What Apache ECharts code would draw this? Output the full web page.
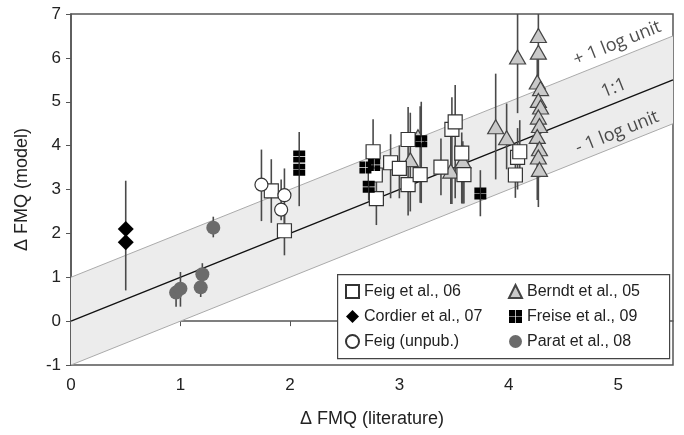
<!DOCTYPE html>
<html>
<head>
<meta charset="utf-8">
<script src="https://cdn.jsdelivr.net/npm/echarts@6/dist/echarts.min.js"></script>
<style>
  html, body { margin: 0; padding: 0; background: #fff; }
  #chart { width: 684px; height: 435px; }
</style>
</head>
<body>
<div id="chart"></div>
<script>
// rows are [x, y, errLow, errHigh]; null = no bar visible
const feig06 = [
  [1.83, 2.97, 2.24, 3.69], [1.95, 2.06, 1.5, 2.6], [2.76, 3.86, 3.1, 4.6],
  [2.78, 3.33, null, null], [2.79, 2.79, 2.19, 3.3], [2.92, 3.61, 2.8, 4.26],
  [3.0, 3.48, 2.8, 4.0], [3.08, 4.14, 3.6, 4.88], [3.08, 3.11, 2.41, 3.7],
  [3.19, 3.34, 2.7, 4.9], [3.38, 3.51, 2.87, 4.16], [3.48, 4.37, 2.67, 5.1],
  [3.51, 4.54, 2.8, 5.38], [3.57, 3.83, 2.68, 4.3], [3.59, 3.34, 2.68, 4.0],
  [4.06, 3.33, 2.81, 3.9], [4.08, 3.73, 3.0, 4.4], [4.1, 3.86, 3.2, 4.58]
]
const cordier07 = [[0.5, 2.1, 0.7, 3.2], [0.5, 1.8, null, null]]
const feigUnpub = [[1.74, 3.11, 2.28, 3.91], [1.92, 2.54, 2.3, 3.23], [1.95, 2.87, 2.0, 3.48]]
const berndt05 = [
  [3.1, 3.68, 2.5, 4.75], [3.17, 4.2, null, null], [3.47, 3.42, 2.67, 4.5],
  [3.58, 3.65, 2.68, 4.1], [3.88, 4.43, 3.23, 5.64], [3.98, 4.18, 3.46, 4.96],
  [4.08, 6.02, 4.74, 7.0], [4.27, 6.51, 2.6, 7.0], [4.27, 6.13, null, null],
  [4.26, 5.45, 2.76, 6.2], [4.29, 5.3, null, null], [4.27, 5.03, null, null],
  [4.29, 4.88, null, null], [4.27, 4.65, null, null], [4.28, 4.46, null, null],
  [4.26, 4.21, null, null], [4.28, 3.93, null, null], [4.27, 3.74, null, null],
  [4.28, 3.46, null, null]
]
const freise09 = [
  [2.085, 3.75, 2.62, 4.31], [2.085, 3.45, null, null], [2.69, 3.5, null, null],
  [2.77, 3.56, null, null], [2.72, 3.06, 2.75, 3.75], [3.2, 4.1, 2.69, 5.0],
  [3.74, 2.91, 2.39, 3.44]
]
const parat08 = [
  [0.96, 0.65, 0.33, 0.82], [1.0, 0.74, 0.33, 1.12], [1.185, 0.77, 0.55, 1.0],
  [1.2, 1.07, 0.9, 1.32], [1.3, 2.13, 1.91, 2.38]
]

// reference lines (1:1 and +/- 1 log unit)
const oneToOne = [[0, 0], [5.5, 5.5]]
const upperLine = [[0, 1], [5.5, 6.5]]
const lowerLine = [[0, -1], [5.5, 4.5]]
const lineLabels = [
  [4.99, 6.33, '+ 1 log unit'],
  [4.96, 5.31, '1:1'],
  [4.99, 4.3, '- 1 log unit']
]

const xTicks = [0, 1, 2, 3, 4, 5]
const yTicks = [-1, 0, 1, 2, 3, 4, 5, 6, 7]

const freisePath = 'path://M0,0H9V9H0Z M10,0H19V9H10Z M0,10H9V19H0Z M10,10H19V19H10Z'
const font = 'Liberation Sans, Arial, sans-serif'

const allPoints = [].concat(feig06, cordier07, feigUnpub, berndt05, freise09, parat08)
const errBars = allPoints.filter(r => r[2] != null).map(r => [r[0], r[2], r[3]])

const pts = rows => rows.map(r => [r[0], r[1]])

const myChart = echarts.init(document.getElementById('chart'))

const legendBase = {
  orient: 'vertical', top: 283.5, padding: 0, z: 30,
  itemWidth: 13, itemHeight: 13, itemGap: 9,
  textStyle: { fontSize: 16, color: '#222', fontFamily: font }
}

myChart.setOption({
  animation: false,
  grid: {
    left: 71, right: 11, top: 14, bottom: 70,
    show: true, borderColor: '#555', borderWidth: 1.5, backgroundColor: 'transparent'
  },
  xAxis: {
    type: 'value', min: 0, max: 5.5, interval: 1,
    name: '\u0394 FMQ (literature)', nameLocation: 'middle', nameGap: 45,
    nameTextStyle: { fontSize: 18, color: '#222', fontFamily: font },
    axisLine: { show: true, lineStyle: { color: '#555', width: 1.5 } },
    axisTick: { show: true, length: 5, lineStyle: { color: '#555' }, customValues: xTicks },
    axisLabel: { fontSize: 17, color: '#222', margin: 12, fontFamily: font, customValues: xTicks },
    splitLine: { show: false }
  },
  yAxis: {
    type: 'value', min: -1, max: 7, interval: 1,
    name: '\u0394 FMQ (model)', nameLocation: 'middle', nameGap: 40,
    nameTextStyle: { fontSize: 18, color: '#222', fontFamily: font },
    axisLine: { show: true, lineStyle: { color: '#555', width: 1.5 } },
    axisTick: { show: true, length: 5, lineStyle: { color: '#555' }, customValues: yTicks },
    axisLabel: { fontSize: 17, color: '#222', margin: 10, fontFamily: font, customValues: yTicks },
    splitLine: { show: false }
  },
  legend: [
    Object.assign({}, legendBase, {
      left: 345,
      data: ['Feig et al., 06', 'Cordier et al., 07', 'Feig (unpub.)']
    }),
    Object.assign({}, legendBase, {
      left: 508,
      data: ['Berndt et al., 05', 'Freise et al., 09', 'Parat et al., 08']
    })
  ],
  graphic: [{
    type: 'rect', left: 337, top: 274, z: 20,
    shape: { width: 332, height: 84 },
    style: { fill: '#fff', stroke: '#444', lineWidth: 1.2 }
  }],
  series: [
    {
      type: 'custom', name: 'band', silent: true, z: 1, clip: true,
      data: [0],
      renderItem: function (params, api) {
        const poly = lowerLine.concat(upperLine.slice().reverse()).map(p => api.coord(p))
        return { type: 'polygon', shape: { points: poly }, style: { fill: '#ececec' } }
      }
    },
    { type: 'line', name: 'upper', data: upperLine, symbol: 'none', z: 2, lineStyle: { color: '#aaa', width: 1 } },
    { type: 'line', name: 'lower', data: lowerLine, symbol: 'none', z: 2, lineStyle: { color: '#aaa', width: 1 } },
    { type: 'line', name: '1:1', data: oneToOne, symbol: 'none', z: 2, lineStyle: { color: '#111', width: 1.3 } },
    {
      type: 'scatter', name: 'line labels', symbolSize: 0, z: 3,
      data: lineLabels.map(l => ({ value: [l[0], l[1]], name: l[2] })),
      label: {
        show: true, position: 'inside', formatter: '{b}', rotate: 21.8,
        fontSize: 18, color: '#222', fontFamily: 'Open Sans, sans-serif'
      }
    },
    {
      type: 'custom', name: 'errors', z: 4, clip: true,
      data: errBars,
      encode: { x: 0, y: [1, 2] },
      renderItem: function (params, api) {
        const a = api.coord([api.value(0), api.value(1)])
        const b = api.coord([api.value(0), api.value(2)])
        return {
          type: 'line',
          shape: { x1: a[0], y1: a[1], x2: b[0], y2: b[1] },
          style: { stroke: '#4a4a4a', lineWidth: 1.6 }
        }
      }
    },
    {
      type: 'scatter', name: 'Berndt et al., 05', data: pts(berndt05), z: 5,
      symbol: 'triangle', symbolSize: [16, 14],
      itemStyle: { color: '#c9c9c9', borderColor: '#444', borderWidth: 1.2, opacity: 1 }
    },
    {
      type: 'scatter', name: 'Feig et al., 06', data: pts(feig06), z: 6,
      symbol: 'rect', symbolSize: 14,
      itemStyle: { color: '#fff', borderColor: '#333', borderWidth: 1.2, opacity: 1 }
    },
    {
      type: 'scatter', name: 'Freise et al., 09', data: pts(freise09), z: 6,
      symbol: freisePath, symbolSize: 12,
      itemStyle: { color: '#000', opacity: 1 }
    },
    {
      type: 'scatter', name: 'Cordier et al., 07', data: pts(cordier07), z: 6,
      symbol: 'diamond', symbolSize: 16,
      itemStyle: { color: '#000', opacity: 1 }
    },
    {
      type: 'scatter', name: 'Feig (unpub.)', data: pts(feigUnpub), z: 6,
      symbol: 'circle', symbolSize: 13,
      itemStyle: { color: '#fff', borderColor: '#333', borderWidth: 1.2, opacity: 1 }
    },
    {
      type: 'scatter', name: 'Parat et al., 08', data: pts(parat08), z: 6,
      symbol: 'circle', symbolSize: 14,
      itemStyle: { color: '#6b6b6b', opacity: 1 }
    }
  ]
})
</script>
</body>
</html>
